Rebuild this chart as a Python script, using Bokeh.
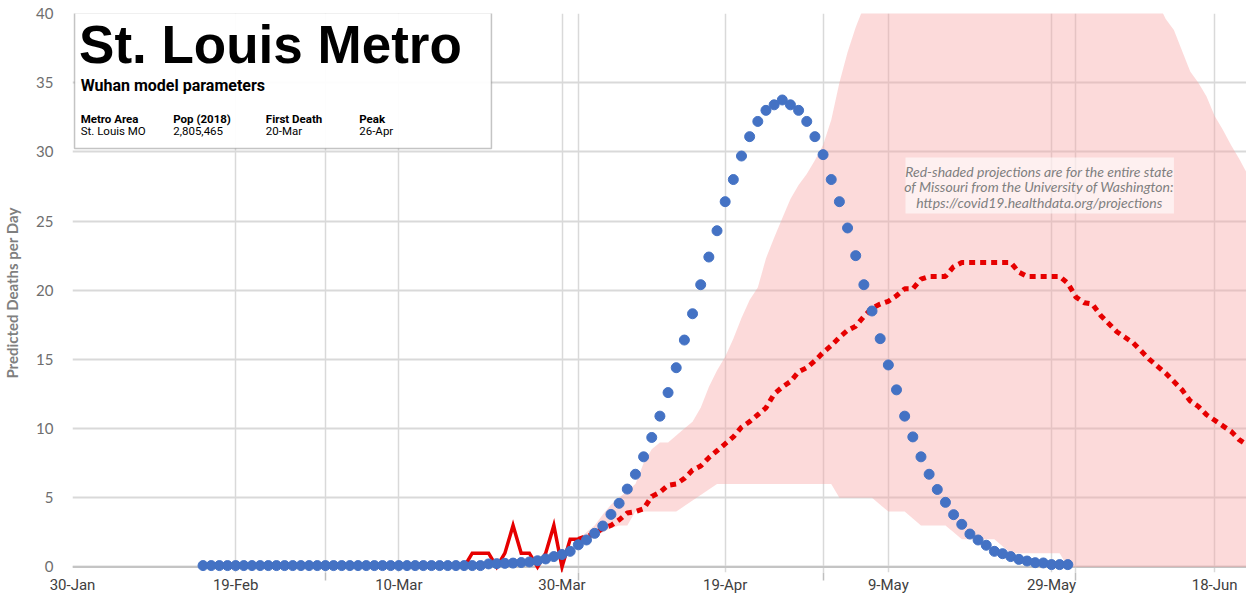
import pandas as pd
from bokeh.plotting import figure
from bokeh.models import Range1d, FixedTicker, Span, BoxAnnotation, Label
from bokeh.embed import file_html
from bokeh.resources import INLINE

# ---------------------------------------------------------------- data
ORIGIN = pd.Timestamp("2020-01-30")          # first date on the x axis

# Wuhan-model predicted deaths per day, St. Louis metro (one value per day)
model_start = "2020-02-15"
model_deaths = [
    0.1, 0.1, 0.1, 0.1, 0.1, 0.1, 0.1, 0.1, 0.1, 0.1,
    0.1, 0.1, 0.1, 0.1, 0.1, 0.1, 0.1, 0.1, 0.1, 0.1,
    0.1, 0.1, 0.1, 0.1, 0.1, 0.1, 0.1, 0.1, 0.1, 0.1,
    0.1, 0.1, 0.1, 0.1, 0.1,
    0.22, 0.24, 0.26, 0.28, 0.32, 0.36, 0.45, 0.58, 0.75, 0.90,
    1.13, 1.60, 1.95, 2.43, 2.96, 3.80, 4.60, 5.63, 6.70, 7.96,
    9.36, 10.9, 12.6, 14.4, 16.4, 18.3, 20.4, 22.4, 24.3, 26.4,
    28.0, 29.7, 31.1, 32.2, 33.0, 33.4, 33.75, 33.4, 33.0, 32.2,
    31.1, 29.8, 28.0, 26.4, 24.5, 22.5, 20.4, 18.5, 16.5, 14.6,
    12.8, 10.9, 9.4, 7.96, 6.7, 5.6, 4.67, 3.78, 3.08, 2.38,
    1.95, 1.57, 1.13, 0.96, 0.75, 0.55, 0.43, 0.31, 0.29, 0.17,
    0.17, 0.17,
]

# Reported daily deaths, state of Missouri
reported_start = "2020-03-18"
reported_deaths = [0, 1, 1, 1, 0, 1, 3, 1, 1, 0, 1, 3, 0, 2, 2]

# IHME projection for Missouri: mean and uncertainty band
ihme_start = "2020-04-01"
ihme_mean = [
    2.0, 2.2, 2.4, 2.8, 3.0, 3.4, 3.9, 4.0, 4.2, 5.1,
    5.4, 5.9, 6.0, 6.4, 7.0, 7.3, 7.9, 8.4, 8.9, 9.4,
    10.1, 10.5, 11.0, 11.5, 12.5, 13.0, 13.4, 14.1, 14.4, 14.9,
    15.5, 16.0, 16.6, 17.1, 17.4, 18.1, 18.7, 19.0, 19.2, 19.6,
    20.1, 20.1, 20.8, 21.0, 21.0, 21.0, 21.7, 22.0, 22.0, 22.0,
    22.0, 22.0, 22.0, 22.0, 21.3, 21.0, 21.0, 21.0, 21.0, 21.0,
    20.5, 19.5, 19.1, 19.0, 18.2, 17.6, 17.0, 16.6, 16.2, 15.6,
    15.0, 14.5, 14.0, 13.4, 12.8, 12.0, 11.6, 11.0, 10.6, 10.2,
    9.8, 9.2, 8.8,
]
ihme_lower = [
    2.0, 2.0, 2.2, 2.5, 2.8, 3.0, 3.0, 4.0, 4.0, 4.0,
    4.0, 4.0, 4.0, 4.4, 4.8, 5.2, 5.6, 6.0, 6.0, 6.0,
    6.0, 6.0, 6.0, 6.0, 6.0, 6.0, 6.0, 6.0, 6.0, 6.0,
    6.0, 6.0, 5.0, 5.0, 5.0, 5.0, 5.0, 4.5, 4.0, 4.0,
    4.0, 3.5, 3.0, 3.0, 3.0, 3.0, 2.5, 2.0, 2.0, 2.0,
    2.0, 2.0, 1.5, 1.0, 1.0, 1.0, 1.0, 1.0, 1.0, 1.0,
    0.0, 0.0, 0.0, 0.0, 0.0, 0.0, 0.0, 0.0, 0.0, 0.0,
    0.0, 0.0, 0.0, 0.0, 0.0, 0.0, 0.0, 0.0, 0.0, 0.0,
    0.0, 0.0, 0.0,
]
ihme_upper = [
    2.0, 2.5, 3.0, 3.8, 4.5, 5.0, 5.5, 6.0, 7.5, 8.5,
    9.0, 9.0, 9.5, 10.0, 10.5, 11.5, 13.0, 14.2, 15.2, 16.5,
    18.0, 19.3, 20.2, 22.3, 23.8, 25.2, 26.6, 27.6, 28.4, 29.4,
    30.5, 32.3, 35.0, 37.2, 39.0, 40.5, 42.0, 43.0, 44.0, 45.0,
    45.0, 45.0, 45.0, 45.0, 45.0, 45.0, 45.0, 45.0, 45.0, 45.0,
    45.0, 45.0, 45.0, 45.0, 45.0, 45.0, 45.0, 45.0, 45.0, 45.0,
    45.0, 45.0, 45.0, 45.0, 45.0, 45.0, 45.0, 44.0, 43.0, 42.0,
    41.5, 40.8, 39.6, 38.8, 37.3, 35.8, 35.0, 34.0, 32.6, 31.6,
    30.5, 29.5, 28.4,
]

x_tick_dates = ["2020-01-30", "2020-02-19", "2020-03-10", "2020-03-30",
                "2020-04-19", "2020-05-09", "2020-05-29", "2020-06-18"]
x_tick_labels = ["30-Jan", "19-Feb", "10-Mar", "30-Mar",
                 "19-Apr", "9-May", "29-May", "18-Jun"]
month_starts = ["2020-03-01", "2020-04-01", "2020-05-01", "2020-06-01"]
y_ticks = [0, 5, 10, 15, 20, 25, 30, 35, 40]


def day_of(date):
    return (pd.Timestamp(date) - ORIGIN).days


def days_from(start, n):
    d0 = day_of(start)
    return [d0 + i for i in range(n)]


model_x = days_from(model_start, len(model_deaths))
reported_x = days_from(reported_start, len(reported_deaths))
ihme_x = days_from(ihme_start, len(ihme_mean))
major_x = [day_of(d) for d in x_tick_dates]
minor_x = [day_of(d) for d in month_starts]

NARROW = "Roboto"

# ---------------------------------------------------------------- figure
p = figure(width=1246, height=603, output_backend="svg", toolbar_location=None,
           x_range=Range1d(0, 143.9), y_range=Range1d(-0.4, 40),
           min_border_left=66, min_border_right=0, min_border_top=13,
           min_border_bottom=31)
p.outline_line_color = None
p.background_fill_color = "white"

GRID = "#d9d9d9"
p.ygrid.ticker = FixedTicker(ticks=y_ticks)
p.ygrid.grid_line_color = GRID
p.ygrid.grid_line_width = 2
p.xgrid.ticker = FixedTicker(ticks=major_x + minor_x)
p.xgrid.grid_line_color = GRID
p.xgrid.grid_line_width = 1.5

# x axis: date labels every 20 days, short ticks at month starts
p.xaxis.ticker = FixedTicker(ticks=major_x, minor_ticks=minor_x)
p.xaxis.major_label_overrides = dict(zip(major_x, x_tick_labels))
p.xaxis.axis_line_color = None
p.xaxis.major_tick_line_color = None
p.xaxis.minor_tick_line_color = "#bfbfbf"
p.xaxis.minor_tick_line_width = 1.5
p.xaxis.minor_tick_in = 0
p.xaxis.minor_tick_out = 8
p.xaxis.major_label_standoff = -5
p.xaxis.major_label_text_font = NARROW
p.xaxis.major_label_text_font_size = "15px"
p.xaxis.major_label_text_color = "#404040"

p.yaxis.ticker = FixedTicker(ticks=y_ticks)
p.yaxis.axis_line_color = None
p.yaxis.major_tick_line_color = None
p.yaxis.minor_tick_line_color = None
p.yaxis.major_label_standoff = 13
p.yaxis.major_label_text_font = "Lato"
p.yaxis.major_label_text_font_size = "15px"
p.yaxis.major_label_text_color = "#6e6e6e"
p.yaxis.axis_label = "Predicted Deaths per Day"
p.yaxis.axis_label_text_font = "Lato"
p.yaxis.axis_label_text_font_style = "bold"
p.yaxis.axis_label_text_font_size = "15px"
p.yaxis.axis_label_text_color = "#7f7f7f"
p.yaxis.axis_label_standoff = 12

p.add_layout(Span(location=0, dimension="width", line_color="#c4c4c4",
                  line_width=2, level="underlay"))

# IHME band, reported deaths, IHME mean, Wuhan-model dots
p.varea(x=ihme_x, y1=ihme_lower, y2=ihme_upper,
        fill_color="#f7a3a3", fill_alpha=0.4)
p.line(reported_x, reported_deaths, line_color="#e60000", line_width=3.5,
       line_join="miter")
p.line(ihme_x, ihme_mean, line_color="#e60000", line_width=5,
       line_dash="6 5")
p.scatter(model_x, model_deaths, size=10, fill_color="#4472c4",
          line_color="#4472c4")

# header box
p.add_layout(BoxAnnotation(left=0.25, right=51.35, top=40.05, bottom=30.25,
                           fill_color="white", fill_alpha=0.95,
                           line_color="#3a3a3a", line_width=1.5))
p.add_layout(Label(x=0.8, y=37.76, text="St. Louis Metro",
                   text_font="Liberation Sans", text_font_style="bold",
                   text_font_size="53px", text_color="black",
                   text_baseline="middle"))
p.add_layout(Label(x=1.0, y=34.8, text="Wuhan model parameters",
                   text_font=NARROW, text_font_style="bold",
                   text_font_size="16px", text_color="black",
                   text_baseline="middle"))
header_cols = [(1.0, "Metro Area", "St. Louis MO"),
               (12.35, "Pop (2018)", "2,805,465"),
               (23.7, "First Death", "20-Mar"),
               (35.15, "Peak", "26-Apr")]
for hx, head, val in header_cols:
    p.add_layout(Label(x=hx, y=32.41, text=head,
                       text_font=NARROW,
                       text_font_style="bold", text_font_size="11.5px",
                       text_color="black", text_baseline="middle"))
    p.add_layout(Label(x=hx, y=31.48, text=val,
                       text_font=NARROW,
                       text_font_size="11.5px", text_color="black",
                       text_baseline="middle"))

# source note
p.add_layout(BoxAnnotation(left=102.1, right=135.0, top=29.6, bottom=25.55,
                           fill_color="white", fill_alpha=0.6,
                           line_color=None))
note_lines = ["Red-shaded projections are for the entire state",
              "of Missouri from the University of Washington:",
              "https://covid19.healthdata.org/projections"]
for k, line in enumerate(note_lines):
    p.add_layout(Label(x=118.5, y=28.6 - 1.12 * k, text=line,
                       text_font="Lato", text_font_style="italic",
                       text_font_size="14px", text_color="#7f7f7f",
                       text_align="center", text_baseline="middle"))

open("out.html", "w").write(file_html(p, INLINE))
